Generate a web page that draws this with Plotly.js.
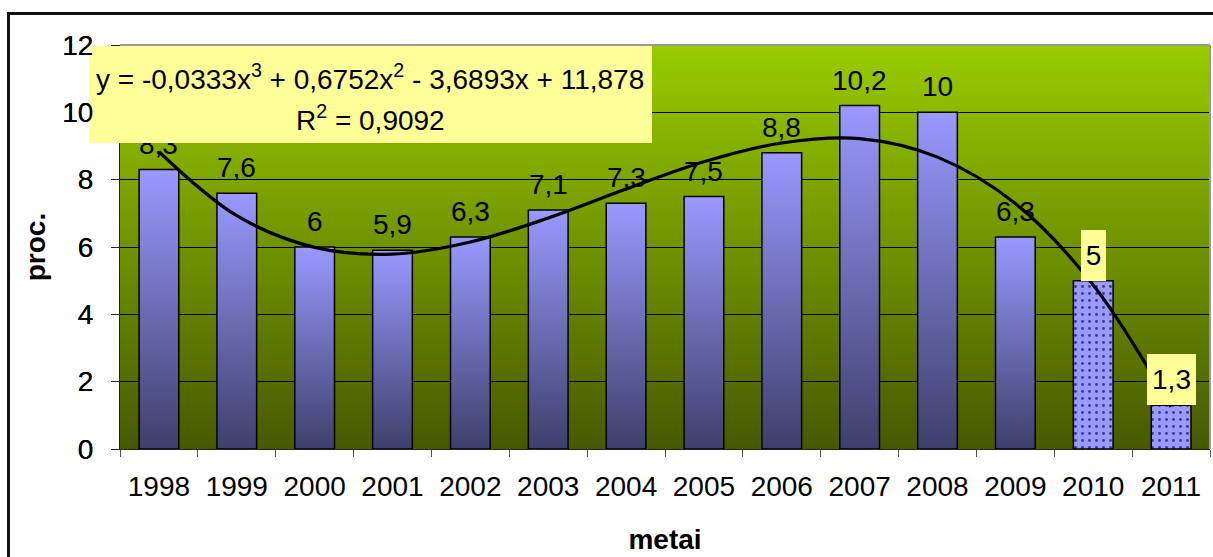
<!DOCTYPE html>
<html>
<head>
<meta charset="utf-8">
<script src="https://cdn.plot.ly/plotly-3.0.1.min.js"></script>
<style>
  html, body { margin: 0; padding: 0; background: #fff; overflow: hidden; }
  #chart { position: absolute; left: 0; top: 0; width: 1213px; height: 557px; }
  #frame { position: absolute; left: 7px; top: 12px; width: 1300px; height: 700px;
           border: 3px solid #111; pointer-events: none; z-index: 5; }
</style>
</head>
<body>
<div id="chart"></div>
<div id="frame"></div>
<script>
// ---- data ----
var years = ['1998','1999','2000','2001','2002','2003','2004','2005','2006','2007','2008','2009','2010','2011'];
var values = [8.3, 7.6, 6, 5.9, 6.3, 7.1, 7.3, 7.5, 8.8, 10.2, 10, 6.3, 5, 1.3];
var forecastCount = 2; // last two bars (2010, 2011) are forecasts
var trendValues = [8.83, 6.93, 5.99, 5.79, 6.15, 6.86, 7.72, 8.53, 9.09, 9.22, 8.67, 7.29, 4.87, 1.25];
var equationLines = ['y = -0,0333x<sup>3</sup> + 0,6752x<sup>2</sup> - 3,6893x + 11,878', 'R<sup>2</sup> = 0,9092'];
var yTitle = 'proc.';
var xTitle = 'metai';

var FONT = 'Liberation Sans, Arial, Helvetica, sans-serif';
var n = years.length;
var nActual = n - forecastCount;

function fmt(v) { return String(v).replace('.', ','); }

var actualTrace = {
  type: 'bar',
  x: years.slice(0, nActual),
  y: values.slice(0, nActual),
  marker: { color: '#7b7bd0', line: { color: '#000', width: 1.5 } },
  hoverinfo: 'skip'
};
var forecastTrace = {
  type: 'bar',
  x: years.slice(nActual),
  y: values.slice(nActual),
  marker: {
    color: '#9999ff',
    line: { color: '#000', width: 1.5 },
    pattern: { shape: '.', bgcolor: '#9999ff', fgcolor: '#3d3d8f', size: 7, solidity: 0.14 }
  },
  hoverinfo: 'skip'
};
var trendTrace = {
  type: 'scatter',
  mode: 'lines',
  x: years,
  y: trendValues,
  line: { color: '#000', width: 3.2, shape: 'spline', smoothing: 1 },
  hoverinfo: 'skip'
};

var annotations = [];
for (var i = 0; i < n; i++) {
  var txt = fmt(values[i]);
  var isForecast = i >= nActual;
  var a = {
    x: i, y: values[i], xref: 'x', yref: 'y',   // category index of years[i]
    yanchor: 'bottom', xanchor: 'center',
    text: txt, showarrow: false,
    font: { family: FONT, size: 28, color: '#000' },
    height: 47, borderpad: 2, borderwidth: 0,
    bgcolor: isForecast ? '#ffff99' : 'rgba(0,0,0,0)'
  };
  if (isForecast) a.width = 21 + (txt.length - 1) * 12;
  annotations.push(a);
}
// trendline equation box + its two lines
var eqX = 0.2298;
annotations.push({
  xref: 'paper', yref: 'y', x: eqX, y: 11.97,
  xanchor: 'center', yanchor: 'top',
  text: ' ', showarrow: false,
  bgcolor: '#ffff99', borderwidth: 0, borderpad: 0,
  width: 563, height: 97
});
annotations.push({
  xref: 'paper', yref: 'y', x: eqX, y: 11.05, xanchor: 'center', yanchor: 'middle',
  text: equationLines[0], showarrow: false,
  font: { family: FONT, size: 28, color: '#000' }
});
annotations.push({
  xref: 'paper', yref: 'y', x: eqX, y: 9.83, xanchor: 'center', yanchor: 'middle',
  text: equationLines[1], showarrow: false,
  font: { family: FONT, size: 28, color: '#000' }
});

var layout = {
  width: 1213, height: 557,
  margin: { l: 120, r: 3, t: 45, b: 108 },
  paper_bgcolor: 'rgba(0,0,0,0)',
  plot_bgcolor: '#739300',
  showlegend: false,
  barmode: 'overlay',
  bargap: 0.49,
  font: { family: FONT, size: 28, color: '#000' },
  xaxis: {
    type: 'category',
    range: [-0.5, n - 0.5],
    showgrid: false, zeroline: false,
    showline: true, linecolor: '#222', linewidth: 1,
    ticks: 'outside', tickson: 'boundaries', ticklen: 7, tickcolor: '#555', tickwidth: 1,
    ticklabelstandoff: 12,
    tickfont: { family: FONT, size: 28, color: '#000' },
    title: { text: '<b>' + xTitle + '</b>', font: { family: FONT, size: 28, color: '#000' }, standoff: 28 },
    fixedrange: true
  },
  yaxis: {
    range: [0, 12], dtick: 2, tick0: 0,
    showgrid: true, gridcolor: '#000', gridwidth: 1,
    zeroline: false,
    showline: true, linecolor: '#222', linewidth: 1,
    ticks: 'outside', ticklen: 8, tickcolor: '#222', tickwidth: 1,
    ticklabelstandoff: 12,
    tickfont: { family: FONT, size: 28, color: '#000' },
    title: { text: '<b>' + yTitle + '</b>', font: { family: FONT, size: 28, color: '#000' }, standoff: 8 },
    fixedrange: true
  },
  shapes: [
    { type: 'line', xref: 'paper', yref: 'paper', x0: 0, x1: 1, y0: 1, y1: 1, line: { color: '#999', width: 2 } },
    { type: 'line', xref: 'paper', yref: 'paper', x0: 1, x1: 1, y0: 0, y1: 1, line: { color: '#999', width: 2 } }
  ],
  annotations: annotations
};

var gd = document.getElementById('chart');

function decorate() {
  var ns = 'http://www.w3.org/2000/svg';
  var svg = gd.querySelector('svg.main-svg');
  var defs = svg.querySelector('defs');
  if (!defs) { defs = document.createElementNS(ns, 'defs'); svg.insertBefore(defs, svg.firstChild); }
  function grad(id, stops) {
    if (document.getElementById(id)) return;
    var g = document.createElementNS(ns, 'linearGradient');
    g.setAttribute('id', id);
    g.setAttribute('x1', '0'); g.setAttribute('y1', '0');
    g.setAttribute('x2', '0'); g.setAttribute('y2', '1');
    stops.forEach(function (s) {
      var st = document.createElementNS(ns, 'stop');
      st.setAttribute('offset', s[0]);
      st.setAttribute('stop-color', s[1]);
      g.appendChild(st);
    });
    defs.appendChild(g);
  }
  grad('bgGrad', [['0', '#99cc00'], ['1', '#475900']]);
  grad('barGrad', [['0', '#9999ff'], ['1', '#3f3f6b']]);
  var bg = svg.querySelector('rect.bg');
  if (bg) bg.style.fill = 'url(#bgGrad)';
  var traces = gd.querySelectorAll('.barlayer .trace');
  if (traces.length) {
    traces[0].querySelectorAll('path').forEach(function (p) { p.style.fill = 'url(#barGrad)'; });
  }
  // y tick labels sit above the equation box, as in the reference
  var info = gd.querySelector('.infolayer');
  var labels = svg.querySelectorAll('.yaxislayer-above text');
  if (info && labels.length) {
    var holder = document.createElementNS(ns, 'g');
    holder.setAttribute('class', 'ylabels-top');
    labels.forEach(function (t) { holder.appendChild(t.cloneNode(true)); });
    info.parentNode.appendChild(holder);
  }
}

Plotly.newPlot(gd, [actualTrace, forecastTrace, trendTrace], layout, { staticPlot: true, displayModeBar: false })
.then(function () { decorate(); });
</script>
</body>
</html>
